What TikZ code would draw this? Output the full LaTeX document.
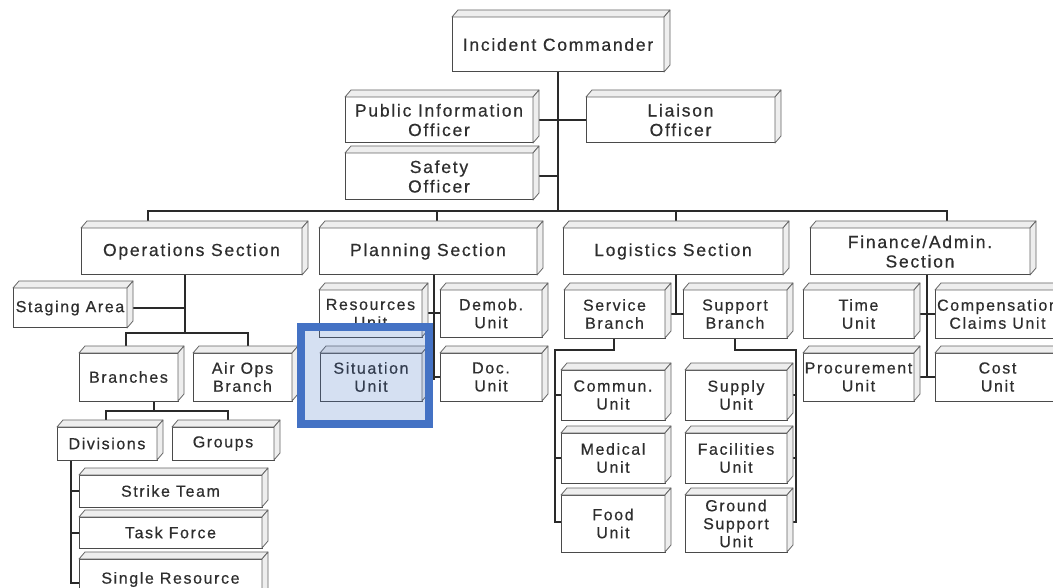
\documentclass[tikz,border=0pt]{standalone}
\usepackage{fontspec}
\newfontfamily\orgfont[LetterSpace=10,FakeBold=0.5]{Liberation Sans}
\usetikzlibrary{backgrounds}
\definecolor{boxline}{HTML}{4A4A4A}
\definecolor{facefill}{HTML}{EEEEEE}
\definecolor{conn}{HTML}{2A2A2A}
\definecolor{txt}{HTML}{2E2E2E}
\definecolor{hl}{HTML}{4472C4}
\tikzset{
  big/.style={font=\orgfont\fontsize{17.5}{19.5}\selectfont},
  small/.style={font=\orgfont\fontsize{16}{18}\selectfont},
  box/.style={draw=boxline, line width=1pt, fill=white, text=txt, align=center, inner sep=0pt, outer sep=0pt},
  face/.style={draw=boxline!85, line width=0.8pt, fill=facefill, line join=round},
  link/.style={draw=conn, line width=2pt},
  hlbox/.style={draw=hl, line width=8pt, fill=hl, fill opacity=0.22},
}
\newcommand\cb[7]{%
  \node[box,#1,minimum width={#5-#3}, minimum height={#6-#4}] (#2) at ({(#3+#5)/2},{(#4+#6)/2}) {#7};}
\begin{document}
\begin{tikzpicture}[x=1pt,y=-1pt]
\useasboundingbox (0,0) rectangle (1053,588);
\clip (0,0) rectangle (1053,588);
% command staff
\cb{big}{IC}{452}{17}{664}{72}{Incident Commander}
\cb{big}{PIO}{345}{97}{533}{143}{Public Information\\Officer}
\cb{big}{Liaison}{586}{97}{775}{143}{Liaison\\Officer}
\cb{big}{Safety}{345}{153}{533}{200}{Safety\\Officer}
% sections
\cb{big}{Ops}{81}{228}{302}{275}{Operations Section}
\cb{big}{Plan}{319}{228}{537}{275}{Planning Section}
\cb{big}{Log}{563}{228}{783}{275}{Logistics Section}
\cb{big}{Fin}{810}{228}{1030}{275}{Finance/Admin.\\Section}
% operations
\cb{small}{Staging}{13}{288}{127}{328}{Staging Area}
\cb{small}{Branches}{79}{353}{178}{401}{Branches}
\cb{small}{AirOps}{193}{353}{292}{401}{Air Ops\\Branch}
\cb{small}{Divisions}{57}{427}{157}{460}{Divisions}
\cb{small}{Groups}{172}{427}{274}{460}{Groups}
\cb{small}{Strike}{79}{475}{262}{507}{Strike Team}
\cb{small}{Task}{79}{517}{262}{548}{Task Force}
\cb{small}{Single}{79}{559}{262}{600}{Single Resource}
% planning
\cb{small}{Resources}{319}{290}{422}{337}{Resources\\Unit}
\cb{small}{Demob}{440}{290}{542}{337}{Demob.\\Unit}
\cb{small}{Situation}{320}{353}{422}{401}{Situation\\Unit}
\cb{small}{Doc}{440}{353}{542}{401}{Doc.\\Unit}
% logistics
\cb{small}{Service}{564}{290}{665}{338}{Service\\Branch}
\cb{small}{Support}{683}{290}{787}{338}{Support\\Branch}
\cb{small}{Commun}{561}{370}{665}{420}{Commun.\\Unit}
\cb{small}{Medical}{561}{433}{665}{483}{Medical\\Unit}
\cb{small}{Food}{561}{495}{665}{552}{Food\\Unit}
\cb{small}{Supply}{685}{370}{787}{420}{Supply\\Unit}
\cb{small}{Facilities}{685}{433}{787}{483}{Facilities\\Unit}
\cb{small}{Ground}{685}{495}{787}{552}{Ground\\Support\\Unit}
% finance
\cb{small}{Time}{803}{290}{914}{338}{Time\\Unit}
\cb{small}{Comp}{935}{290}{1060}{338}{Compensation\\Claims Unit}
\cb{small}{Proc}{803}{353}{914}{401}{Procurement\\Unit}
\cb{small}{Cost}{935}{353}{1060}{401}{Cost\\Unit}
% 3D faces
\foreach \n in {IC,PIO,Liaison,Safety,Ops,Plan,Log,Fin,Staging,Branches,AirOps,Divisions,Groups,Strike,Task,Single,Resources,Demob,Situation,Doc,Service,Support,Commun,Medical,Food,Supply,Facilities,Ground,Time,Comp,Proc,Cost}{
  \filldraw[face] (\n.north west) -- ++(6,-7) -- ([shift={(6,-7)}]\n.north east) -- (\n.north east) -- cycle;
  \filldraw[face] (\n.north east) -- ++(6,-7) -- ([shift={(6,-7)}]\n.south east) -- (\n.south east) -- cycle;
}
% junction coordinates
\coordinate (icbar) at (558,211);
\coordinate (b1) at (148,211);
\coordinate (b2) at (437,211);
\coordinate (b3) at (676,211);
\coordinate (b4) at (947,211);
\coordinate (o1) at (185,333);
\coordinate (o2) at (126,333);
\coordinate (o3) at (248,333);
\coordinate (br) at (154,411);
\coordinate (br1) at (106,411);
\coordinate (br2) at (228,411);
\coordinate (dv) at (71,583);
\coordinate (p1) at (434,380);
\coordinate (s1) at (614,350);
\coordinate (s2) at (555,350);
\coordinate (s3) at (555,522);
\coordinate (u1) at (735,350);
\coordinate (u2) at (796,350);
\coordinate (u3) at (796,522);
\coordinate (f1) at (927,377);
\begin{scope}[on background layer]
  \fill[white] (0,0) rectangle (1053,588);
  \draw[link] (IC.south -| icbar) -- (icbar);
  \draw[link] (PIO.east) -- (Liaison.west);
  \draw[link] (Safety.east) -- (Safety.east -| icbar);
  \draw[link] (Ops.north -| b1) -- (b1) -- (b4) -- (Fin.north -| b4);
  \draw[link] (b2) -- (Plan.north -| b2);
  \draw[link] (b3) -- (Log.north -| b3);
  % operations
  \draw[link] (Ops.south -| o1) -- (o1);
  \draw[link] (Staging.east) -- (Staging.east -| o1);
  \draw[link] (Branches.north -| o2) -- (o2) -- (o3) -- (AirOps.north -| o3);
  \draw[link] (Branches.south -| br) -- (br);
  \draw[link] (Divisions.north -| br1) -- (br1) -- (br2) -- (Groups.north -| br2);
  \draw[link] (Divisions.south -| dv) -- (dv) -- (dv -| Single.west);
  \draw[link] (Strike.west -| dv) -- (Strike.west);
  \draw[link] (Task.west -| dv) -- (Task.west);
  % planning
  \draw[link] (Plan.south -| p1) -- (p1);
  \draw[link] (Resources.east) -- (Demob.west);
  \draw[link] (Situation.east) -- (Doc.west);
  % logistics
  \draw[link] (Log.south -| b3) -- (Service.east -| b3);
  \draw[link] (Service.east) -- (Support.west);
  \draw[link] (Service.south -| s1) -- (s1) -- (s2) -- (s3) -- (s3 -| Food.west);
  \draw[link] (Commun.west -| s2) -- (Commun.west);
  \draw[link] (Medical.west -| s2) -- (Medical.west);
  \draw[link] (Support.south -| u1) -- (u1) -- (u2) -- (u3) -- (u3 -| Ground.east);
  \draw[link] (Supply.east -| u2) -- (Supply.east);
  \draw[link] (Facilities.east -| u2) -- (Facilities.east);
  % finance
  \draw[link] (Fin.south -| f1) -- (f1);
  \draw[link] (Time.east) -- (Comp.west);
  \draw[link] (Proc.east) -- (Cost.west);
\end{scope}
% highlight
\draw[hlbox] (301,327) rectangle (429,424);
\end{tikzpicture}
\end{document}
